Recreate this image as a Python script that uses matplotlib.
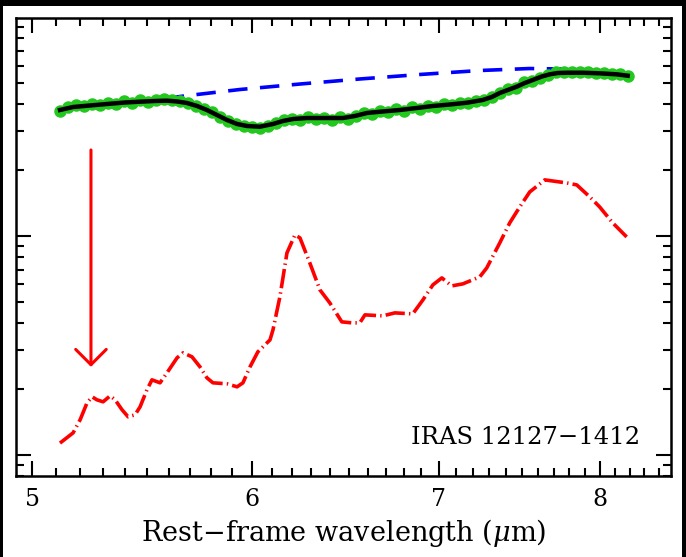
import matplotlib
matplotlib.use("Agg")
import matplotlib.pyplot as plt
from matplotlib.patches import Rectangle
from matplotlib.ticker import FixedLocator, FixedFormatter, NullFormatter
import numpy as np

plt.rcParams['font.family'] = ['DejaVu Serif']
plt.rcParams['mathtext.fontset'] = 'dejavuserif'
plt.rcParams['lines.scale_dashes'] = False

# Observed spectrum (green points), wavelength in micron, flux in arbitrary units
obs_wave = [5.116, 5.150, 5.184, 5.219, 5.253, 5.288, 5.323, 5.359, 5.394, 5.430,
            5.466, 5.503, 5.539, 5.576, 5.613, 5.650, 5.688, 5.726, 5.764, 5.802,
            5.841, 5.879, 5.918, 5.958, 5.997, 6.037, 6.077, 6.118, 6.158, 6.199,
            6.240, 6.282, 6.324, 6.366, 6.408, 6.450, 6.493, 6.536, 6.580, 6.624,
            6.668, 6.712, 6.756, 6.801, 6.847, 6.892, 6.938, 6.984, 7.030, 7.077,
            7.124, 7.171, 7.219, 7.267, 7.315, 7.364, 7.413, 7.462, 7.512, 7.561,
            7.612, 7.662, 7.713, 7.764, 7.816, 7.868, 7.920, 7.973, 8.026, 8.079,
            8.133, 8.187]
obs_flux = [37.22, 38.82, 39.65, 39.03, 40.06, 39.44, 40.49, 40.06, 41.14, 40.49,
            41.57, 40.92, 41.79, 42.01, 41.79, 41.14, 40.28, 39.23, 38.01, 36.83,
            34.94, 33.50, 32.46, 31.62, 31.29, 31.13, 31.79, 32.97, 33.86, 34.39,
            34.03, 34.94, 34.21, 34.57, 33.86, 34.76, 34.39, 35.31, 36.45, 36.07,
            37.22, 36.64, 37.81, 37.22, 38.62, 38.01, 39.23, 38.82, 39.85, 39.44,
            40.49, 40.28, 41.35, 41.57, 43.13, 44.75, 46.91, 47.65, 50.23, 51.03,
            52.92, 54.36, 55.80, 56.09, 56.38, 56.09, 56.09, 55.50, 55.50, 54.93,
            54.64, 53.79]

# Best-fit model (black line)
fit_wave = [5.116, 5.172, 5.245, 5.319, 5.399, 5.467, 5.535, 5.590, 5.637, 5.683,
            5.731, 5.778, 5.826, 5.875, 5.924, 5.973, 6.037, 6.103, 6.153, 6.205,
            6.277, 6.371, 6.467, 6.531, 6.597, 6.684, 6.779, 6.875, 6.967, 7.066,
            7.166, 7.261, 7.316, 7.364, 7.413, 7.468, 7.518, 7.568, 7.625, 7.675,
            7.726, 7.784, 7.888, 7.999, 8.113, 8.187]
fit_flux = [37.61, 38.82, 39.44, 40.06, 40.70, 41.05, 41.35, 41.49, 41.14, 40.49,
            39.23, 37.61, 35.69, 33.86, 32.46, 31.79, 31.55, 32.46, 33.50, 34.21,
            34.57, 34.57, 34.57, 35.31, 36.45, 37.03, 37.61, 38.41, 39.23, 39.85,
            40.61, 41.79, 43.13, 44.98, 46.42, 48.06, 49.96, 51.56, 53.49, 54.74,
            55.50, 55.67, 55.67, 55.32, 54.74, 53.94]

# Continuum under the absorption features (blue dashed)
cont_wave = [5.580, 5.651, 5.938, 6.241, 6.558, 6.892, 7.243, 7.549, 7.752]
cont_flux = [42.23, 43.36, 46.66, 49.43, 52.12, 54.64, 56.98, 58.19, 57.89]

# PAH emission component (red dash-dot)
pah_wave = [5.116, 5.172, 5.202, 5.232, 5.254, 5.275, 5.302, 5.333, 5.355, 5.386,
            5.413, 5.444, 5.467, 5.498, 5.521, 5.558, 5.590, 5.637, 5.665, 5.707,
            5.745, 5.778, 5.807, 5.875, 5.924, 5.953, 5.988, 6.027, 6.088, 6.103,
            6.138, 6.174, 6.215, 6.241, 6.292, 6.345, 6.397, 6.461, 6.515, 6.558,
            6.586, 6.684, 6.751, 6.852, 6.910, 6.967, 7.019, 7.077, 7.142, 7.243,
            7.285, 7.364, 7.425, 7.487, 7.549, 7.644, 7.784, 7.849, 7.934, 7.999,
            8.086, 8.180]
pah_flux = [1.131, 1.260, 1.445, 1.728, 1.840, 1.783, 1.746, 1.859, 1.783, 1.605,
            1.491, 1.522, 1.657, 1.981, 2.200, 2.132, 2.368, 2.774, 2.923, 2.803,
            2.522, 2.247, 2.132, 2.110, 2.044, 2.132, 2.522, 2.953, 3.350, 3.723,
            5.266, 8.363, 10.11, 9.792, 7.527, 5.667, 4.944, 4.049, 4.007, 4.007,
            4.358, 4.312, 4.450, 4.404, 5.102, 5.973, 6.431, 5.911, 6.037, 6.499,
            7.143, 9.291, 11.47, 13.57, 15.88, 18.03, 17.46, 17.10, 15.07, 13.57,
            11.47, 9.895]

# Arrow marking the 5.25 micron feature
arrow_wave = 5.249
arrow_top = 24.70
arrow_tip = 2.522

x_major = [5, 6, 7, 8]
x_major_labels = ['5', '6', '7', '8']
source_name = 'IRAS 12127\u22121412'
x_label = 'Rest\u2212frame wavelength ($\\mu$m)'

W, H = 686, 557
fig = plt.figure(figsize=(W / 100, H / 100), dpi=100)
fig.patch.set_facecolor('black')
fig.add_artist(Rectangle((3 / W, 0), (682 - 3) / W, (H - 6) / H,
                         transform=fig.transFigure, facecolor='white',
                         edgecolor='none', zorder=-10))

ax = fig.add_axes([16 / W, 1 - 476 / H, 655 / W, 458 / H])
ax.set_xscale('log')
ax.set_yscale('log')

ax.plot(cont_wave, cont_flux, color='#0000ff', lw=2.6, dashes=(14, 9),
        solid_capstyle='butt', zorder=2)
ax.plot(obs_wave, obs_flux, 'o', color='#22c81e', ms=9, mec='none', zorder=3)
ax.plot(fit_wave, fit_flux, color='black', lw=3.2, zorder=4)
ax.plot(pah_wave, pah_flux, color='#ff0000', lw=2.6,
        linestyle=(0, (14, 3, 1, 3)), dash_capstyle='butt', zorder=3)

ax.annotate('', xy=(arrow_wave, arrow_tip), xytext=(arrow_wave, arrow_top),
            arrowprops=dict(arrowstyle='->,head_length=1.1,head_width=1.1',
                            color='#ff0000', lw=2.2, shrinkA=0, shrinkB=0))

ax.text(0.9527, 0.085, source_name, transform=ax.transAxes, ha='right',
        va='center', fontsize=17.5)

ax.set_xlim(4.933, 8.486)
ax.set_ylim(0.80, 99)

x_minor = [v / 10 for v in range(49, 86) if v % 10 != 0]
ax.xaxis.set_major_locator(FixedLocator(x_major))
ax.xaxis.set_major_formatter(FixedFormatter(x_major_labels))
ax.xaxis.set_minor_locator(FixedLocator(x_minor))
ax.xaxis.set_minor_formatter(NullFormatter())

y_minor = [k * 10.0 ** d for d in (-1, 0, 1) for k in range(2, 10)]
ax.yaxis.set_major_locator(FixedLocator([1, 10, 100]))
ax.yaxis.set_minor_locator(FixedLocator(y_minor))
ax.yaxis.set_major_formatter(NullFormatter())
ax.yaxis.set_minor_formatter(NullFormatter())

ax.tick_params(which='both', direction='in', top=True, right=True,
               width=1.5, color='black')
ax.tick_params(which='major', length=11)
ax.tick_params(which='minor', length=5.5)
ax.tick_params(axis='x', which='major', labelsize=17, pad=9)
for s in ax.spines.values():
    s.set_linewidth(1.8)

ax.set_xlabel(x_label, fontsize=19.5, labelpad=4)

fig.savefig('out.png', dpi=100, facecolor=fig.get_facecolor())
